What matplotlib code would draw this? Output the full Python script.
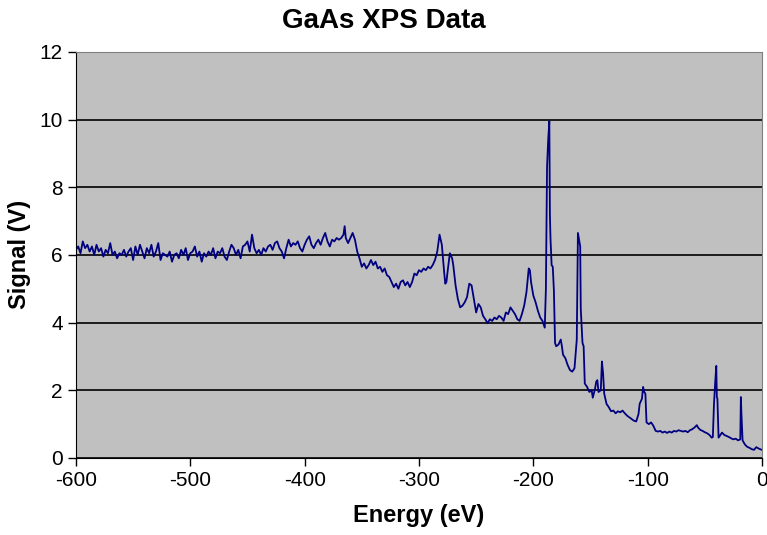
import matplotlib
matplotlib.use("Agg")
import matplotlib.pyplot as plt

plt.rcParams["font.family"] = ["Liberation Sans", "DejaVu Sans"]
plt.rcParams["axes.unicode_minus"] = False   # Excel-style hyphen minus

# XPS spectrum (energy in eV, signal in V)
energy = [
    -600, -598, -596, -594, -592, -590, -588, -586, -584, -582, -580, -578, -576, -574, -572,
    -570, -568, -566, -564, -562, -560, -558, -556, -554, -552, -550, -548, -546, -544, -542,
    -540, -538, -536, -534, -532, -530, -528, -526, -524, -522, -520, -518, -516, -514, -512,
    -510, -508, -506, -504, -502, -500, -498, -496, -494, -492, -490, -488, -486, -484, -482,
    -480, -478, -476, -474, -472, -470, -468, -466, -464, -462, -460, -458, -456, -454, -452,
    -450, -448, -446, -444, -442, -440, -438, -436, -434, -432, -430, -428, -426, -424, -422,
    -420, -418, -416, -414, -412, -410, -408, -406, -404, -402, -400, -398, -396, -394, -392,
    -390, -388, -386, -384, -382, -380,
    -378, -376, -374, -372, -370, -368, -366, -365, -364, -362, -360, -358, -356, -354, -352,
    -350, -348, -346, -344, -342, -340, -338, -336, -334, -332, -330, -328, -326, -324, -322,
    -320, -318, -316, -314, -312, -310, -308, -306, -304, -302, -300, -298, -296, -294, -292,
    -290, -288, -286, -284, -282, -281, -280, -278, -277, -276, -275, -273, -271, -270, -268,
    -266, -264, -262, -260, -258, -256, -254, -252, -250, -248, -246, -244, -242, -240, -238,
    -236, -234, -232, -230, -228, -226, -224, -222, -220, -218, -216, -214, -212, -210, -208,
    -206, -204, -203, -202, -200, -198, -196, -194, -192, -190, -189, -188, -187, -186, -185.5,
    -185, -184, -183, -182, -181, -180, -178, -176, -175, -174, -172, -170, -168, -166, -164,
    -162, -161, -160, -159, -158.5, -157, -156, -155, -153, -151, -149, -148, -146, -145, -144,
    -143, -141, -140, -139, -138, -136, -134, -132, -130, -128, -126, -124, -122, -120, -118,
    -116, -114, -112, -110, -108, -107, -105, -104, -103, -102, -101, -99, -97, -95, -93,
    -91, -89, -87, -85, -83, -81, -79, -77, -75, -73, -71, -69, -67, -65, -63,
    -61, -59, -57, -56, -54, -52, -50, -48, -46, -44, -43, -42, -41, -40, -39.5,
    -39, -38, -36, -35, -33, -31, -29, -27, -25, -23, -21, -19, -18.5, -18, -17,
    -15, -13, -11, -9, -7, -5, -3, -1, 0,
]
signal = [
    6.15, 6.25, 6.05, 6.40, 6.20, 6.30, 6.10, 6.25, 6.00, 6.30, 6.10, 6.20, 5.95, 6.15, 6.05,
    6.35, 6.00, 6.10, 5.90, 6.05, 6.00, 6.15, 5.95, 6.10, 6.20, 5.85, 6.25, 6.00, 6.30, 6.10,
    5.90, 6.20, 6.05, 6.30, 5.95, 6.10, 6.35, 5.85, 6.05, 6.00, 5.95, 6.10, 5.80, 6.00, 6.05,
    5.90, 6.15, 6.00, 6.20, 5.85, 6.05, 6.10, 6.25, 5.95, 6.10, 5.80, 6.05, 5.95, 6.10, 6.00,
    6.20, 5.90, 6.10, 6.05, 6.20, 5.95, 5.85, 6.10, 6.30, 6.20, 6.00, 6.15, 5.90, 6.25, 6.30,
    6.40, 6.10, 6.60, 6.20, 6.05, 6.15, 6.00, 6.20, 6.10, 6.25, 6.30, 6.15, 6.35, 6.40, 6.20,
    6.10, 5.90, 6.20, 6.45, 6.25, 6.35, 6.30, 6.40, 6.20, 6.10, 6.30, 6.45, 6.55, 6.30, 6.20,
    6.35, 6.45, 6.30, 6.50, 6.65, 6.40,
    6.25, 6.45, 6.40, 6.50, 6.45, 6.50, 6.60, 6.85, 6.50, 6.35, 6.50, 6.65, 6.45, 6.10, 5.90,
    5.65, 5.75, 5.60, 5.70, 5.85, 5.70, 5.80, 5.60, 5.65, 5.50, 5.60, 5.40, 5.35, 5.20, 5.05,
    5.15, 5.00, 5.20, 5.25, 5.10, 5.20, 5.05, 5.20, 5.45, 5.40, 5.55, 5.50, 5.60, 5.55, 5.65,
    5.60, 5.70, 5.85, 6.10, 6.60, 6.45, 6.30, 5.50, 5.15, 5.20, 5.50, 6.05, 5.90, 5.70, 5.10,
    4.70, 4.45, 4.50, 4.60, 4.75, 5.15, 5.10, 4.70, 4.30, 4.55, 4.45, 4.20, 4.10, 3.98, 4.10,
    4.05, 4.15, 4.10, 4.20, 4.15, 4.05, 4.30, 4.25, 4.45, 4.35, 4.25, 4.10, 4.05, 4.25, 4.50,
    4.90, 5.60, 5.55, 5.20, 4.80, 4.60, 4.35, 4.15, 4.05, 3.85, 5.00, 8.60, 9.40, 9.95, 7.20,
    6.50, 5.70, 5.65, 4.95, 3.40, 3.30, 3.35, 3.50, 3.30, 3.05, 2.95, 2.75, 2.60, 2.55, 2.65,
    3.50, 6.65, 6.45, 6.25, 4.40, 3.40, 3.30, 2.20, 2.10, 1.95, 2.00, 1.78, 2.05, 2.25, 2.30,
    1.95, 2.00, 2.85, 2.50, 1.90, 1.60, 1.50, 1.38, 1.40, 1.32, 1.38, 1.35, 1.40, 1.32, 1.25,
    1.20, 1.15, 1.10, 1.08, 1.30, 1.60, 1.75, 2.10, 1.95, 1.90, 1.05, 1.00, 1.05, 0.95, 0.80,
    0.78, 0.80, 0.75, 0.78, 0.74, 0.78, 0.75, 0.80, 0.78, 0.82, 0.80, 0.78, 0.80, 0.76, 0.82,
    0.85, 0.90, 0.97, 0.90, 0.83, 0.80, 0.76, 0.73, 0.68, 0.60, 0.62, 1.60, 2.20, 2.72, 1.80,
    1.75, 0.60, 0.70, 0.75, 0.68, 0.65, 0.62, 0.58, 0.55, 0.57, 0.52, 0.55, 1.80, 1.30, 0.52,
    0.40, 0.33, 0.30, 0.26, 0.24, 0.32, 0.28, 0.25, 0.24,
]

x_ticks = [-600, -500, -400, -300, -200, -100, 0]
y_ticks = [0, 2, 4, 6, 8, 10, 12]

fig = plt.figure(figsize=(7.67, 5.35), dpi=100)
ax = fig.add_axes([0.099, 0.144, 0.8945, 0.759])
ax.set_facecolor("#c0c0c0")

ax.plot(energy, signal, color="#000080", lw=1.3)

ax.set_xlim(-600, 0)
ax.set_ylim(0, 12)
ax.set_xticks(x_ticks)
ax.set_yticks(y_ticks)
ax.yaxis.grid(True, color="black", lw=1.2)
ax.set_axisbelow(True)
ax.tick_params(direction="out", length=6, width=1, labelsize=15, colors="black")

for side in ("top", "right"):
    ax.spines[side].set_color("#808080")
for side in ("left", "bottom"):
    ax.spines[side].set_color("black")

ax.set_xlabel("Energy (eV)", fontsize=17, fontweight="bold", labelpad=10)
ax.set_ylabel("Signal (V)", fontsize=17, fontweight="bold", labelpad=6)
fig.suptitle("GaAs XPS Data", fontsize=20, fontweight="bold", y=0.985)

fig.savefig("out.png", dpi=100)
